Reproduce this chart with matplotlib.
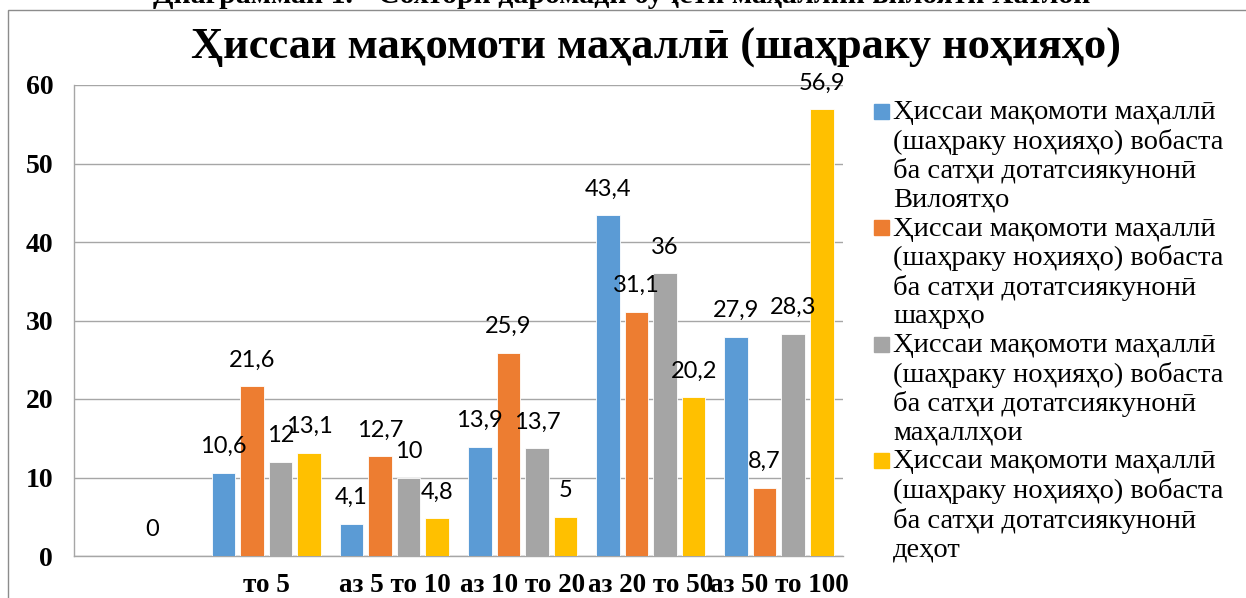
import numpy as np
import matplotlib
matplotlib.use('Agg')
import matplotlib.pyplot as plt
from matplotlib.patches import Rectangle

# data
categories = ['', 'то 5', 'аз 5 то 10', 'аз 10 то 20', 'аз 20 то 50', 'аз 50 то 100']
viloyatho = [np.nan, 10.6, 4.1, 13.9, 43.4, 27.9]
shahrho = [np.nan, 21.6, 12.7, 25.9, 31.1, 8.7]
mahallhoi = [0, 12, 10, 13.7, 36, 28.3]
dehot = [np.nan, 13.1, 4.8, 5, 20.2, 56.9]

base = 'Ҳиссаи мақомоти маҳаллӣ\n(шаҳраку ноҳияҳо) вобаста\nба сатҳи дотатсиякунонӣ\n'
labels = [base + 'Вилоятҳо', base + 'шаҳрҳо', base + 'маҳаллҳои', base + 'деҳот']
colors = ['#5B9BD5', '#ED7D31', '#A5A5A5', '#FFC000']
series = [viloyatho, shahrho, mahallhoi, dehot]

serif = 'Liberation Serif'
sans = 'Lato'

W, H = 1246, 598
fig = plt.figure(figsize=(W / 100, H / 100), dpi=100)

# chart border (runs off the right and bottom edge)
fig.patches.append(Rectangle((8 / W, -0.1), 1.2, (H - 10) / H + 0.1,
                             transform=fig.transFigure, fill=False,
                             edgecolor='#8c8c8c', linewidth=1))

# caption above the chart, cut by the top edge
fig.text(622 / W, 1 + 5 / H, 'Диаграммаи 1. - Сохтори даромади буҷети маҳаллии вилояти Хатлон',
         ha='center', va='center', fontsize=21.5, fontweight='bold', family=serif)

fig.text(656 / W, 1 - 48 / H, 'Ҳиссаи мақомоти маҳаллӣ (шаҳраку ноҳияҳо)',
         ha='center', va='center', fontsize=32, fontweight='bold', family=serif)

ax = fig.add_axes([74 / W, 42 / H, (843 - 74) / W, (556 - 85) / H])

x = np.arange(len(categories))
step = 0.2227
width = 0.184
for i, (vals, col) in enumerate(zip(series, colors)):
    xs = x + (i - 1.5) * step
    ax.bar(xs, vals, width=width, color=col, edgecolor='white', linewidth=0.6, zorder=3)
    for xv, v in zip(xs, vals):
        if np.isnan(v):
            continue
        txt = ('%g' % v).replace('.', ',')
        ax.annotate(txt, (xv, v), xytext=(0, 19), textcoords='offset points',
                    ha='center', va='center', fontsize=17, family=sans, zorder=4)

ax.set_xlim(-0.5, 5.5)
ax.set_ylim(0, 60)
ax.set_yticks(range(0, 61, 10))
ax.set_xticks(x)
ax.set_xticklabels(categories)
ax.tick_params(length=0)
ax.tick_params(axis='y', pad=15)
ax.tick_params(axis='x', pad=12)
for lab in ax.get_yticklabels():
    lab.set_family(serif)
    lab.set_fontweight('bold')
    lab.set_fontsize(20)
for lab in ax.get_xticklabels():
    lab.set_family(serif)
    lab.set_fontweight('bold')
    lab.set_fontsize(19.5)

ax.grid(axis='y', color='#a6a6a6', linewidth=1, zorder=0)
for s in ['top', 'right']:
    ax.spines[s].set_visible(False)
for s in ['left', 'bottom']:
    ax.spines[s].set_color('#a6a6a6')
    ax.spines[s].set_linewidth(1)

# legend drawn by hand to get the overlapping entry spacing
for i, (lab, col) in enumerate(zip(labels, colors)):
    ytop = 111 + i * 116.5
    fig.patches.append(Rectangle((874 / W, 1 - (ytop + 7.5) / H), 15 / W, 15 / H,
                                 transform=fig.transFigure, color=col))
    fig.text(893 / W, 1 - (ytop - 11) / H, lab, ha='left', va='top',
             fontsize=20.5, family=serif, linespacing=1.18)

fig.savefig('out.png', dpi=100)
